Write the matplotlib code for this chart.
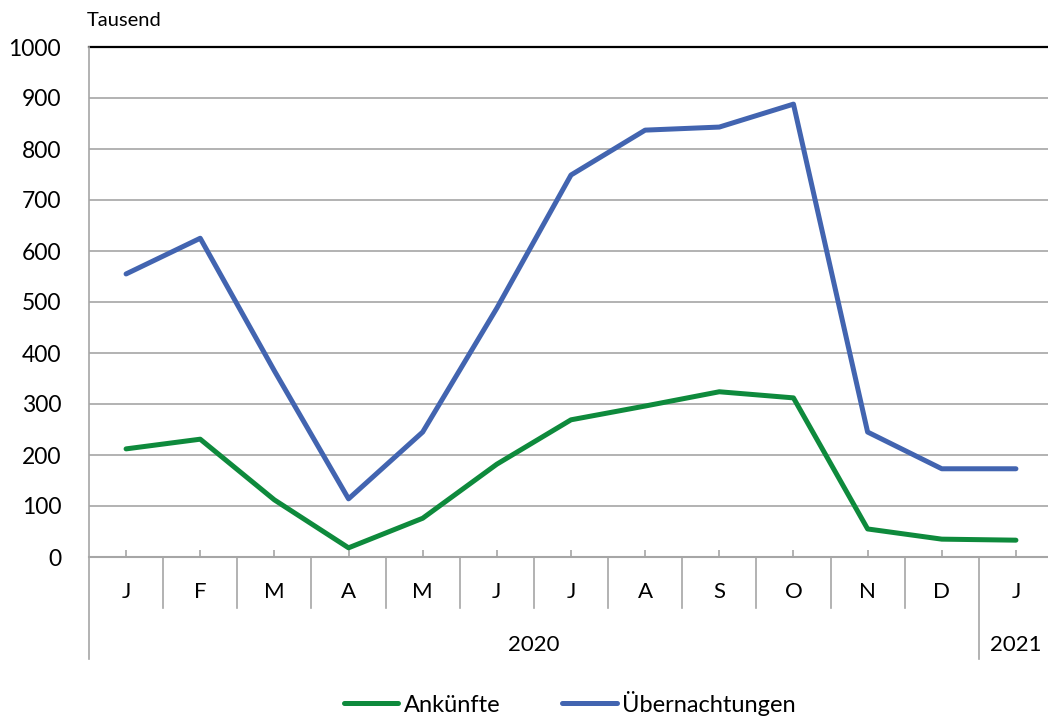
import numpy as np
import matplotlib
matplotlib.use("Agg")
import matplotlib.pyplot as plt
import matplotlib.transforms as mtransforms

plt.rcParams["font.family"] = ["Lato", "DejaVu Sans"]

# -----------------------------
# Daten
# -----------------------------
months = ["J", "F", "M", "A", "M", "J", "J", "A", "S", "O", "N", "D", "J"]
years = ["2020", "2021"]
year_span = [(0, 11), (12, 12)]

ankuenfte = [212, 231, 112, 18, 76, 182, 269, 296, 324, 312, 55, 35, 33]
uebernachtungen = [555, 625, 365, 114, 245, 488, 749, 837, 843, 888, 245, 173, 173]

green = "#0e8a3c"
blue = "#4264b0"
grid_c = "#a6a6a6"

fig = plt.figure(figsize=(10.48, 7.2), dpi=100)
ax = fig.add_axes([89 / 1048, 1 - 557 / 720, (1053 - 89) / 1048, 510 / 720])

x = np.arange(len(months))
ax.plot(x, ankuenfte, color=green, lw=3.6, solid_capstyle="round",
        solid_joinstyle="round", label="Ankünfte", zorder=3)
ax.plot(x, uebernachtungen, color=blue, lw=3.6, solid_capstyle="round",
        solid_joinstyle="round", label="Übernachtungen", zorder=3)

ax.set_xlim(-0.5, len(months) - 0.5)
ax.set_ylim(0, 1000)
ax.set_yticks(np.arange(0, 1001, 100))
ax.tick_params(axis="y", length=0, pad=20, labelsize=16.5)
ax.yaxis.grid(True, color=grid_c, lw=1.2)
ax.set_axisbelow(True)

# x-Achse: kleine Striche an den Datenpunkten, Beschriftung selbst gesetzt
ax.set_xticks(x)
ax.set_xticklabels([])
ax.tick_params(axis="x", direction="in", length=5, width=1.2, color=grid_c)

for s in ["top", "right"]:
    ax.spines[s].set_visible(False)
ax.spines["left"].set_color(grid_c)
ax.spines["left"].set_linewidth(1.2)
ax.spines["bottom"].set_color(grid_c)
ax.spines["bottom"].set_linewidth(1.5)
ax.axhline(1000, color="black", lw=1.6, zorder=2, clip_on=False)

trans = mtransforms.blended_transform_factory(ax.transData, ax.transAxes)

# Monatstrenner
for k in range(len(months) - 1):
    if k + 0.5 == 11.5:
        continue
    ax.plot([k + 0.5, k + 0.5], [0, -0.1], color=grid_c, lw=1.2,
            transform=trans, clip_on=False)
# Jahrestrenner
for b in [-0.5, 11.5]:
    ax.plot([b, b], [0, -0.2], color=grid_c, lw=1.2,
            transform=trans, clip_on=False)

for i, m in enumerate(months):
    ax.text(i, -0.068, m, transform=trans, ha="center", va="center", fontsize=16)
for yr, (a, b) in zip(years, year_span):
    ax.text((a + b) / 2, -0.172, yr, transform=trans, ha="center",
            va="center", fontsize=16)

fig.text(87 / 1048, 1 - 20 / 720, "Tausend", ha="left", va="center", fontsize=14.5)

leg = fig.legend(loc="center", bbox_to_anchor=(570 / 1048, 1 - 703 / 720),
                 ncol=2, frameon=False, fontsize=17, handlelength=2.3,
                 handletextpad=0.25, columnspacing=2.6)

fig.savefig("out.png", dpi=100)
